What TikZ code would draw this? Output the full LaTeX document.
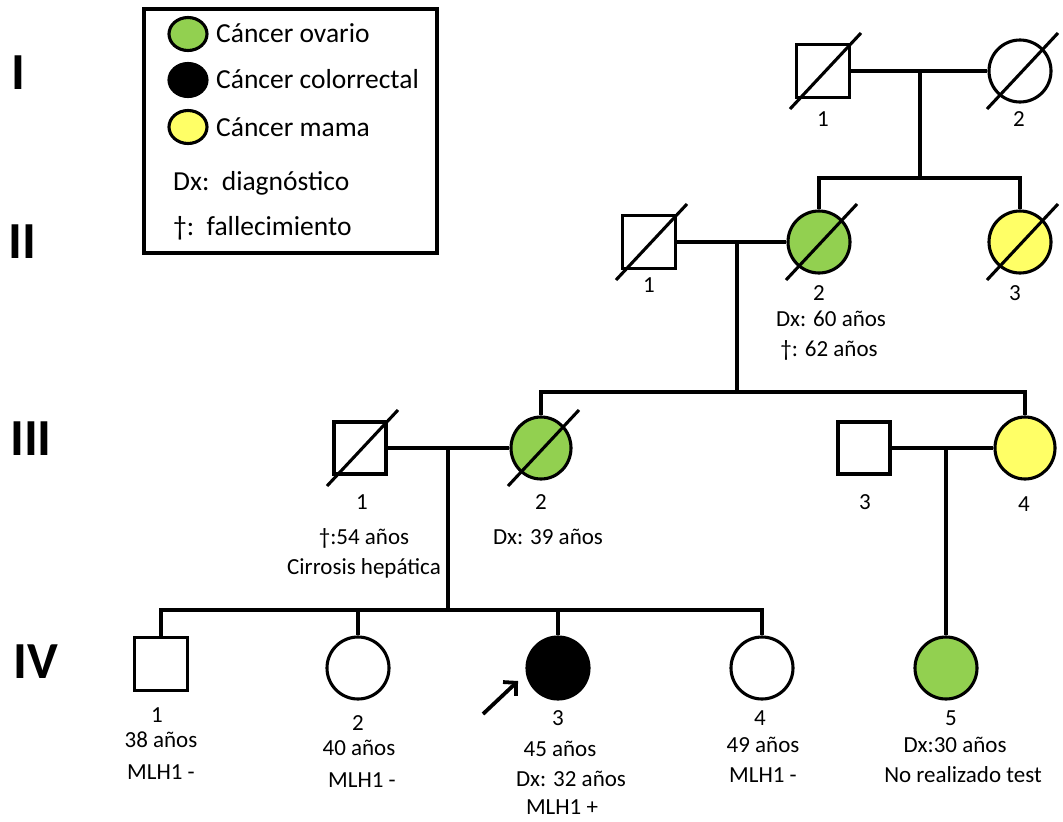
\documentclass[tikz,border=0pt]{standalone}
\usepackage{fontspec}
\setmainfont{Carlito}
\usetikzlibrary{shapes.geometric,arrows.meta,calc}
\definecolor{ovgreen}{HTML}{92D050}
\definecolor{mamay}{HTML}{FFFF66}
\newcommand\labfont{\fontsize{23}{28}\selectfont}
\newcommand\legfont{\fontsize{27.5}{30}\selectfont}
\newcommand\genfont{\fontsize{52}{56}\selectfont\bfseries}
\begin{document}
\begin{tikzpicture}[x=1pt,y=-1pt,
  lw/.style={line width=3.1pt},
  male/.style={draw, lw, rectangle, minimum size=53pt, inner sep=0pt, fill=white},
  female/.style={draw, lw, ellipse, minimum width=62pt, minimum height=62pt, inner sep=0pt, fill=white},
  femaleIII/.style={female, minimum width=60pt},
  ovario/.style={fill=ovgreen},
  colo/.style={fill=black},
  mama/.style={fill=mamay},
  lab/.style={font=\labfont, anchor=base, inner sep=0pt},
  legtext/.style={font=\legfont, anchor=base west, inner sep=0pt},
  legsym/.style={draw, lw, ellipse, minimum width=38pt, minimum height=33pt, inner sep=0pt},
  gen/.style={font=\genfont, anchor=base, inner sep=0pt},
  slash/.style={lw}
]
\useasboundingbox (0,0) rectangle (1063,822);

% generation numerals
\node[gen] (gI) at (18.5,89) {I};
\node[gen] (gII) at (22,258) {II};
\node[gen] (gIII) at (31,455) {III};
\node[gen] (gIV) at (36,678) {IV};

% legend
\node[draw, lw, minimum width=293pt, minimum height=244pt, inner sep=0pt] (legendbox) at (290.5,131) {};
\node[legsym, ovario] (lg1) at (188,34) {};
\node[legsym, colo] (lg2) at (188,80) {};
\node[legsym, mama] (lg3) at (188,127) {};
\node[legtext] (lt1) at (216,42) {Cáncer ovario};
\node[legtext] (lt2) at (216,88) {Cáncer colorrectal};
\node[legtext] (lt3) at (216,136) {Cáncer mama};
\node[legtext] (lt4) at (173,190) {Dx:\ \ diagnóstico};
\node[legtext] (lt5) at (173,235) {†:\ \ fallecimiento};

% ---------------- Generation I
\node[male] (I1) at (823,71) {};
\node[female] (I2) at (1020,71) {};
\coordinate (dI) at (920,71);
\coordinate (sI) at (920,178);
\draw[lw] (I1.east) -- (I2.west);
\draw[lw] (dI) -- (sI);

% ---------------- Generation II
\node[male] (II1) at (649,242) {};
\node[female, ovario] (II2) at (819,242) {};
\node[female, mama] (II3) at (1020,242) {};
\draw[lw] (II2.north) |- (sI) -| (II3.north);
\coordinate (dII) at (737,242);
\coordinate (sII) at (737,392);
\draw[lw] (II1.east) -- (II2.west);
\draw[lw] (dII) -- (sII);

% ---------------- Generation III
\node[male, minimum size=52pt] (III1) at (360,448) {};
\node[femaleIII, ovario] (III2) at (541,448) {};
\node[male, minimum size=52pt] (III3) at (864,448) {};
\node[femaleIII, mama] (III4) at (1025,448) {};
\draw[lw] (III2.north) |- (sII) -| (III4.north);
\draw[lw] (III1.east) -- (III2.west);
\draw[lw] (III3.east) -- (III4.west);
\coordinate (dIIIa) at (448,448);
\coordinate (sIII) at (448,610);
\coordinate (dIIIb) at (946,448);

% ---------------- Generation IV
\node[male] (IV1) at (161,664) {};
\node[female] (IV2) at (358,668) {};
\node[female, colo] (IV3) at (558,668) {};
\node[female] (IV4) at (762,668) {};
\node[female, ovario] (IV5) at (946,668) {};
\draw[lw] (dIIIa) -- (sIII);
\draw[lw] (IV1.north) |- (sIII) -| (IV4.north);
\draw[lw] (IV2.north) -- (IV2.north |- sIII);
\draw[lw] (IV3.north) -- (IV3.north |- sIII);
\draw[lw] (dIIIb) -- (IV5.north);

% deceased slashes
\foreach \n in {I1,I2,II1,II2,II3,III1,III2}
  \draw[slash] ($(\n.center)+(-33,38)$) -- ($(\n.center)+(38,-38)$);

% proband arrow
\coordinate (arrS) at (483,714);
\coordinate (arrE) at (518,681);
\draw[line width=3.8pt, -{Straight Barb[length=9pt,width=19pt]}] (arrS) -- (arrE);

% ---------------- labels
\node[lab] (tI1) at (823,126) {1};
\node[lab] (tI2) at (1019,126) {2};

\node[lab] (tII1) at (649,292) {1};
\node[lab] (tII2) at (819,300) {2};
\node[lab] (tII3) at (1015,300) {3};
\node[lab] (tII2a) at (831,326) {Dx: 60 años};
\node[lab] (tII2b) at (829,356) {†: 62 años};

\node[lab] (tIII1) at (362,509) {1};
\node[lab] (tIII1a) at (364,544) {†:54 años};
\node[lab] (tIII1b) at (364,574) {Cirrosis hepática};
\node[lab] (tIII2) at (541,509) {2};
\node[lab] (tIII2a) at (548,544) {Dx: 39 años};
\node[lab] (tIII3) at (865,509) {3};
\node[lab] (tIII4) at (1024,511) {4};

\node[lab] (tIV1) at (157,722) {1};
\node[lab] (tIV1a) at (161,747) {38 años};
\node[lab] (tIV1b) at (161,779) {MLH1 -};
\node[lab] (tIV2) at (358,730) {2};
\node[lab] (tIV2a) at (359,755) {40 años};
\node[lab] (tIV2b) at (362,787) {MLH1 -};
\node[lab] (tIV3) at (558,725) {3};
\node[lab] (tIV3a) at (560,756) {45 años};
\node[lab] (tIV3b) at (571,786) {Dx: 32 años};
\node[lab] (tIV3c) at (562,814) {MLH1 +};
\node[lab] (tIV4) at (760,725) {4};
\node[lab] (tIV4a) at (763,752) {49 años};
\node[lab] (tIV4b) at (763,782) {MLH1 -};
\node[lab] (tIV5) at (951,725) {5};
\node[lab] (tIV5a) at (955,752) {Dx:30 años};
\node[lab] (tIV5b) at (963,782) {No realizado test};
\end{tikzpicture}
\end{document}
